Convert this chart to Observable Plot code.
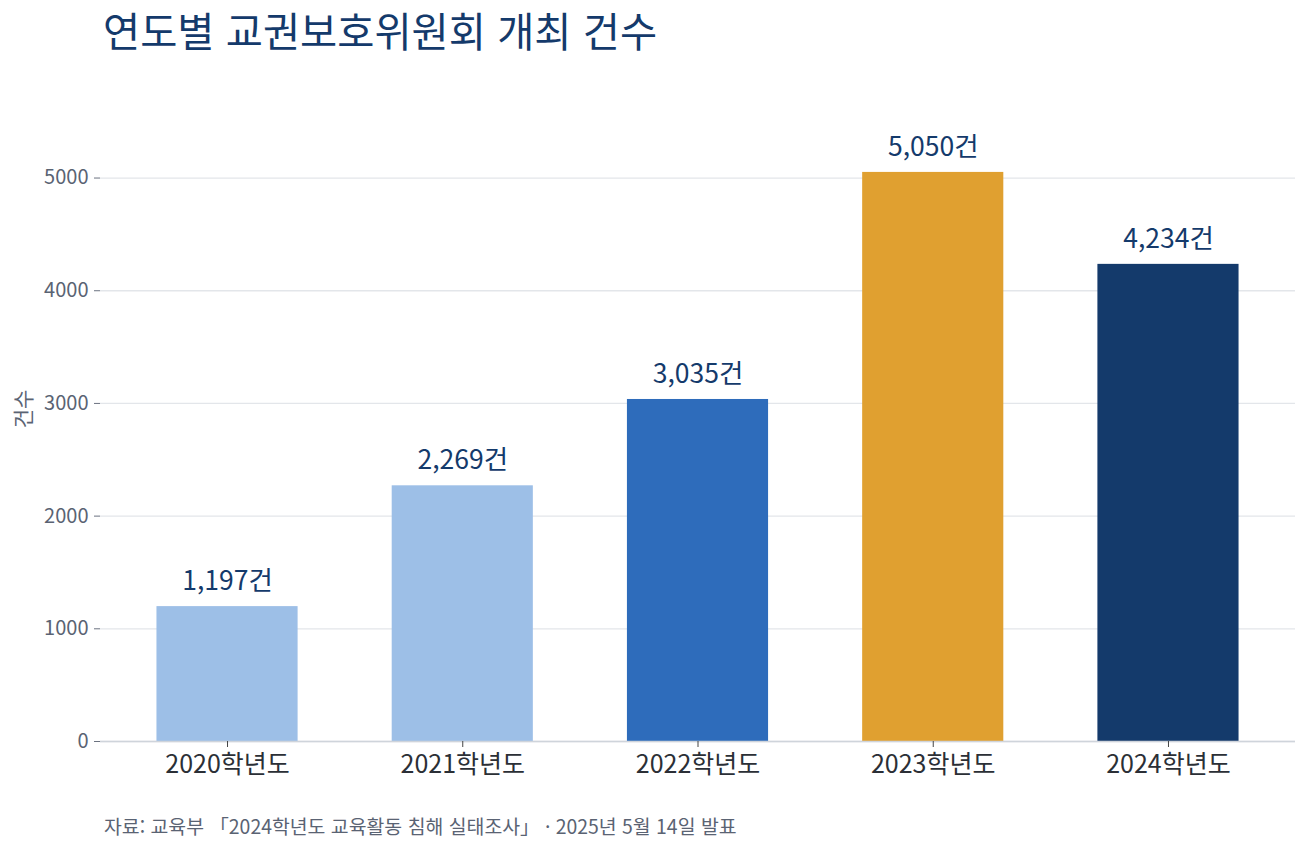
<!DOCTYPE html>
<html lang="ko">
<head>
<meta charset="utf-8">
<script src="https://cdn.jsdelivr.net/npm/d3@7"></script>
<script src="https://cdn.jsdelivr.net/npm/@observablehq/plot@0.6"></script>
<style>
  html, body { margin: 0; padding: 0; background: #fff; }
  body { width: 1306px; height: 850px; position: relative; overflow: hidden;
         font-family: "Noto Sans CJK KR", "Noto Sans", sans-serif; }
  #title { position: absolute; left: 103px; top: 0px; font-size: 40.4px; line-height: 60px;
           color: #143a6b; font-weight: 400; margin: 0; }
  #chart { position: absolute; left: 0; top: 70px; }
  #caption { position: absolute; left: 104px; top: 812px; font-size: 19.4px; line-height: 28px; color: #5a6373; }
</style>
</head>
<body>
<h1 id="title">연도별 교권보호위원회 개최 건수</h1>
<div id="chart"></div>
<div id="caption">자료: 교육부 「2024학년도 교육활동 침해 실태조사」 · 2025년 5월 14일 발표</div>
<script>
const years = ["2020학년도", "2021학년도", "2022학년도", "2023학년도", "2024학년도"];
const counts = [1197, 2269, 3035, 5050, 4234];
const barColors = ["#9dbfe7", "#9dbfe7", "#2e6cbb", "#e0a030", "#143a6b"];
const yTicks = [0, 1000, 2000, 3000, 4000, 5000];
const yLabel = "건수";

const data = years.map((y, i) => ({ year: y, count: counts[i], color: barColors[i] }));

const chart = Plot.plot({
  width: 1306,
  height: 730,
  marginLeft: 100,
  marginRight: 11,
  marginTop: 45,
  marginBottom: 59,
  style: { fontFamily: '"Noto Sans CJK KR", "Noto Sans", sans-serif', background: "#fff", overflow: "visible" },
  x: { domain: years, paddingInner: 0.4, paddingOuter: 0.24, round: false, label: null },
  y: { domain: [0, 5555], label: null },
  marks: [
    Plot.gridY(yTicks, { stroke: "#e3e6ea", strokeOpacity: 1, strokeWidth: 1.3 }),
    Plot.barY(data, { x: "year", y: "count", fill: "color" }),
    Plot.ruleY([0], { stroke: "#cfd4db", strokeWidth: 1.5 }),
    Plot.text(data, {
      x: "year", y: "count", text: d => d3.format(",")(d.count) + "건",
      dy: -25, fontSize: 26.5, fill: "#143a6b", lineAnchor: "middle"
    }),
    Plot.axisY({
      ticks: yTicks, tickFormat: d => String(d), tickSize: 6, tickPadding: 6,
      fontSize: 20, fill: "#5a6373", stroke: "#6b7280", label: null
    }),
    Plot.axisX({
      tickSize: 6, tickPadding: 8, fontSize: 25, fill: "#2b2f36", stroke: "#444", label: null
    })
  ]
});

const ns = "http://www.w3.org/2000/svg";
const lab = document.createElementNS(ns, "text");
lab.setAttribute("transform", "translate(22,339) rotate(-90)");
lab.setAttribute("text-anchor", "middle");
lab.setAttribute("dominant-baseline", "central");
lab.setAttribute("font-size", "21");
lab.setAttribute("fill", "#5a6373");
lab.textContent = yLabel;
chart.appendChild(lab);
document.getElementById("chart").appendChild(chart);
</script>
</body>
</html>
